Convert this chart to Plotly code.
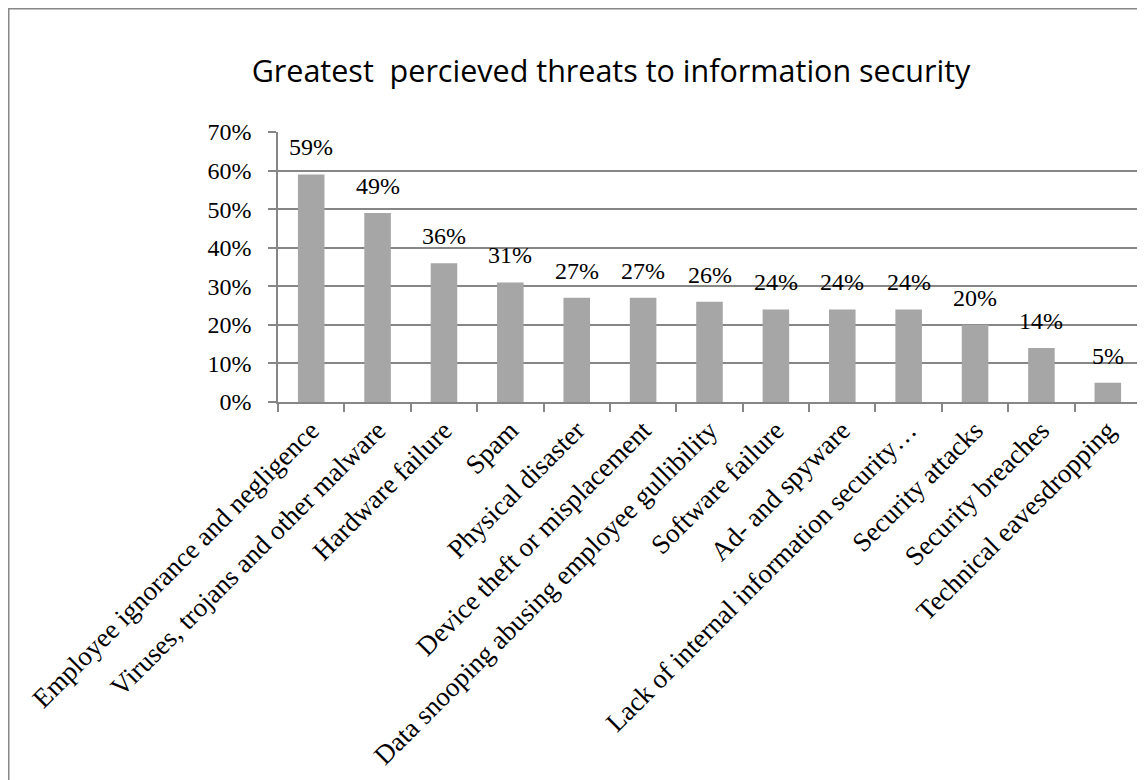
import plotly.graph_objects as go

categories = [
    "Employee ignorance and negligence",
    "Viruses, trojans and other malware",
    "Hardware failure",
    "Spam",
    "Physical disaster",
    "Device theft or misplacement",
    "Data snooping abusing employee gullibility",
    "Software failure",
    "Ad- and spyware",
    "Lack of internal information security…",
    "Security attacks",
    "Security breaches",
    "Technical eavesdropping",
]
values = [0.59, 0.49, 0.36, 0.31, 0.27, 0.27, 0.26, 0.24, 0.24, 0.24, 0.20, 0.14, 0.05]
title_text = "Greatest  percieved threats to information security"

# page body has an 8px margin, so figure coords = screen coords - 8
W, H = 1145, 780
L, T = 270, 124
R = W - 1133
B = H - 394
pw = W - L - R
ph = H - T - B

serif = "Liberation Serif, Times New Roman, serif"
grid = "#868686"

fig = go.Figure()
fig.add_trace(go.Bar(
    x=categories, y=values,
    marker=dict(color="#A6A6A6", line=dict(width=0)),
    hoverinfo="skip",
))

for c, v in zip(categories, values):
    fig.add_annotation(
        x=c, y=v, xref="x", yref="y",
        text=f"{round(v*100)}%", showarrow=False,
        yanchor="bottom", xanchor="center", yshift=12,
        font=dict(family=serif, size=24, color="black"),
    )

# outer chart border (extends beyond the image on right/bottom)
fig.add_shape(
    type="rect", xref="paper", yref="paper",
    x0=(0.5 - L) / pw, x1=(1300 - L) / pw,
    y0=1 - (1000 - T) / ph, y1=1 + (T - 0.5) / ph,
    line=dict(color="#888888", width=2), fillcolor="rgba(0,0,0,0)",
    layer="below",
)

fig.update_layout(
    width=W, height=H,
    margin=dict(l=L, r=R, t=T, b=B, autoexpand=False),
    paper_bgcolor="white", plot_bgcolor="white",
    showlegend=False,
    bargap=0.6,
    title=dict(
        text=title_text, x=603 / W, xanchor="center", xref="container",
        y=1 - 63 / H, yanchor="middle", yref="container",
        font=dict(family="Open Sans, Lato, Calibri, sans-serif", size=30.5, color="black"),
    ),
    xaxis=dict(
        type="category", tickangle=-45,
        ticks="outside", tickson="boundaries", ticklen=8, tickcolor=grid, tickwidth=1.5,
        showline=True, linecolor=grid, linewidth=1.5,
        showgrid=False, automargin=False,
        tickfont=dict(family=serif, size=27, color="black"),
    ),
    yaxis=dict(
        range=[0, 0.7], dtick=0.1, tickformat=".0%",
        ticks="outside", ticklen=8, tickcolor=grid, tickwidth=1.5,
        showline=True, linecolor=grid, linewidth=1.5,
        showgrid=True, gridcolor=grid, gridwidth=1.5,
        zeroline=False, automargin=False,
        ticklabelstandoff=12,
        tickfont=dict(family=serif, size=24, color="black"),
    ),
)

fig.write_html("out.html")
